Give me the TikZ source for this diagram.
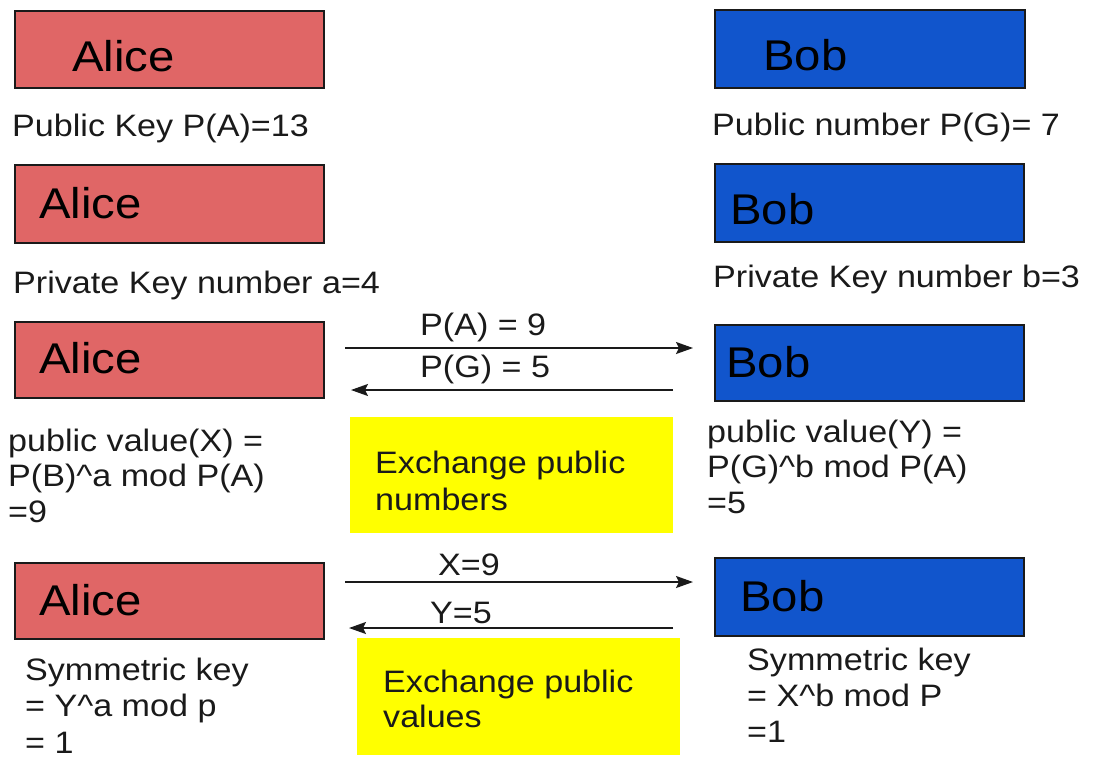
\documentclass[tikz,border=0pt]{standalone}
\usepackage{fontspec}
\setmainfont[FakeStretch=1.1]{Liberation Sans}
\usetikzlibrary{arrows.meta}

\definecolor{alicered}{HTML}{E06666}
\definecolor{bobblue}{HTML}{1155CC}
\definecolor{notebg}{HTML}{FFFF00}
\definecolor{ink}{HTML}{1A1A1A}

\tikzset{
  party/.style={draw=ink, line width=1.8pt, minimum width=309pt, minimum height=77pt,
    anchor=north west, inner sep=0pt},
  alicebox/.style={party, fill=alicered},
  bobbox/.style={party, fill=bobblue},
  notebox/.style={fill=notebg, anchor=north west, inner sep=0pt},
  who/.style={anchor=base west, inner sep=0pt, text=black,
    font=\fontsize{43}{50}\selectfont},
  % multi-line notes are placed by the baseline of their last line
  info/.style={anchor=base west, inner sep=0pt, text=ink, align=left,
    font=\fontsize{31}{36}\selectfont},
  msg/.style={line width=1.8pt, draw=ink, -{Stealth[length=17pt,width=12pt,inset=3pt]}},
}

\begin{document}
\begin{tikzpicture}[x=1pt, y=-1pt]
\useasboundingbox (0,0) rectangle (1094,758);

% row 1: public numbers
\node[alicebox, minimum width=309pt, minimum height=77pt] (alice1) at (14,10) {};
\node[bobbox, minimum width=310pt, minimum height=78pt] (bob1) at (714,9) {};
\node[who] (alice1t) at (72,71) {Alice};
\node[who] (bob1t) at (763,70) {Bob};
\node[info] (pubA) at (12,136) {Public Key P(A)=13};
\node[info] (pubG) at (712,135) {Public number P(G)= 7};

% row 2: private numbers
\node[alicebox, minimum height=78pt] (alice2) at (14,164) {};
\node[bobbox, minimum height=78pt] (bob2) at (714,163) {};
\node[who] (alice2t) at (39,218) {Alice};
\node[who] (bob2t) at (730,224) {Bob};
\node[info] (privA) at (13,293) {Private Key number a=4};
\node[info] (privB) at (713,287) {Private Key number b=3};

% row 3: exchange of public numbers
\node[alicebox, minimum height=76pt] (alice3) at (14,321) {};
\node[bobbox, minimum height=76pt] (bob3) at (714,324) {};
\node[who] (alice3t) at (39,373) {Alice};
\node[who] (bob3t) at (726,377) {Bob};

\coordinate (pa-from) at (345,348);
\coordinate (pa-to) at (693,348);
\coordinate (pg-from) at (673,390);
\coordinate (pg-to) at (351,390);
\draw[msg] (pa-from) -- (pa-to);
\draw[msg] (pg-from) -- (pg-to);
\node[info] (paLabel) at (420,335) {P(A) = 9};
\node[info] (pgLabel) at (420,377) {P(G) = 5};

\node[notebox, minimum width=323pt, minimum height=116pt] (note1) at (350,417) {};
\node[info, font=\fontsize{31}{37}\selectfont] (note1t) at (375,510) {Exchange public\\numbers};

\node[info, font=\fontsize{31}{35.5}\selectfont] (valX) at (8,522) {public value(X) =\\P(B)\^{}a mod P(A)\\=9};
\node[info, font=\fontsize{31}{35.5}\selectfont] (valY) at (707,513) {public value(Y) =\\P(G)\^{}b mod P(A)\\=5};

% row 4: exchange of public values
\node[alicebox, minimum height=76pt] (alice4) at (14,562) {};
\node[bobbox, minimum height=78pt] (bob4) at (714,557) {};
\node[who] (alice4t) at (39,615) {Alice};
\node[who] (bob4t) at (740,611) {Bob};

\coordinate (x-from) at (345,582);
\coordinate (x-to) at (693,582);
\coordinate (y-from) at (673,628);
\coordinate (y-to) at (349,628);
\draw[msg] (x-from) -- (x-to);
\draw[msg] (y-from) -- (y-to);
\node[info] (xLabel) at (438,575) {X=9};
\node[info] (yLabel) at (430,623) {Y=5};

\node[notebox, minimum width=323pt, minimum height=117pt] (note2) at (357,638) {};
\node[info, font=\fontsize{31}{35}\selectfont] (note2t) at (383,727) {Exchange public\\values};

\node[info, font=\fontsize{31}{36.5}\selectfont] (symA) at (25,753) {Symmetric key\\= Y\^{}a mod p\\= 1};
\node[info] (symB) at (747,742) {Symmetric key\\= X\^{}b mod P\\=1};
\end{tikzpicture}
\end{document}
